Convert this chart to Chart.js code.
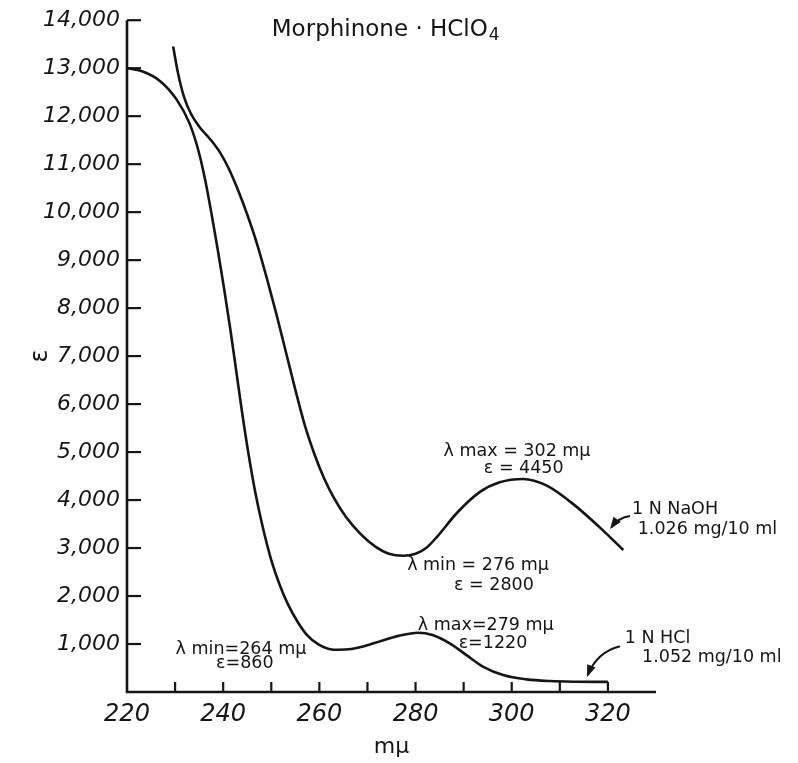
<!DOCTYPE html>
<html>
<head>
<meta charset="UTF-8">
<title>Morphinone · HClO4</title>
<script src="https://cdn.jsdelivr.net/npm/chart.js@4.4.1/dist/chart.umd.min.js"></script>
<style>
    body { margin: 0; background: #fff; }
    #wrap { width: 798px; height: 763px; position: relative; }
</style>
</head>
<body>
<div id="wrap"><canvas id="spectrum"></canvas></div>
<script>
    // 1 N HCl, 1.052 mg/10 ml  (wavelength in mμ, ε)
    const hclNm = [220, 223, 226.9, 230.3, 233, 234.8, 236.3, 237.6, 238.9, 240.2, 241.5, 242.7, 243.9, 245.2,
        246.6, 248.2, 250, 251.8, 253.5, 255.5, 257.5, 259.8, 262.9, 266, 269.5, 273, 276.5, 280.5,
        283.5, 287.2, 290.6, 294.1, 298.2, 303.1, 307.9, 313.5, 320];
    const hclEps = [13000, 12940, 12730, 12350, 11850, 11300, 10650, 9950, 9200, 8400, 7550, 6700, 5850, 5000,
        4200, 3450, 2750, 2220, 1820, 1460, 1180, 990, 880, 890, 960, 1070, 1170, 1235,
        1190, 1010, 768, 525, 353, 263, 228, 214, 210];

    // 1 N NaOH, 1.026 mg/10 ml
    const naohNm = [229.6, 230.6, 231.8, 233.3, 235.2, 237.3, 239.3, 241.2, 243, 245, 247, 249, 251, 253, 255,
        257, 259, 261, 263, 265.5, 268.5, 271.5, 274.5, 277.5, 280, 282.2, 284.6, 288.5, 293.4, 297.5,
        302.4, 307.3, 312.8, 318.3, 323.2];
    const naohEps = [13450, 12900, 12420, 12050, 11760, 11520, 11250, 10900, 10480, 9950, 9350, 8650, 7900, 7100, 6300,
        5550, 4950, 4450, 4050, 3650, 3300, 3040, 2880, 2840, 2880, 3000, 3250, 3720, 4170, 4370,
        4440, 4300, 3915, 3430, 2960];

    const xTickMarks = [230, 240, 250, 260, 270, 280, 290, 300, 310, 320];
    const yTickMarks = [1000, 2000, 3000, 4000, 5000, 6000, 7000, 8000, 9000, 10000, 11000, 12000, 13000, 14000];

    // notes written on the plot, anchored in data units
    const noteText = ['λ max = 302 mμ', 'ε = 4450', 'λ min = 276 mμ', 'ε = 2800', '1 N NaOH', '1.026 mg/10 ml',
        'λ min=264 mμ', 'ε=860', 'λ max=279 mμ', 'ε=1220', '1 N HCl', '1.052 mg/10 ml'];
    const noteNm = [301.1, 302.5, 293, 296.3, 325, 326.2, 243.7, 244.5, 294.6, 296.1, 323.5, 327.1];
    const noteEps = [5020, 4650, 2635, 2220, 3800, 3380, 890, 600, 1390, 1015, 1120, 730];
    const noteAlign = ['center', 'center', 'center', 'center', 'left', 'left',
        'center', 'center', 'center', 'center', 'left', 'left'];

    // arrows from the labels to their curves: tail, bend, head
    const arrowNm = [[324.6, 322.2, 320.7], [322.5, 317.7, 315.8]];
    const arrowEps = [[3670, 3640, 3430], [955, 835, 350]];

    const ink = '#151515';
    const face = '"DejaVu Sans", "Liberation Sans", sans-serif';

    const inkAxes = {
        id: 'inkAxes',
        afterDraw(chart) {
            const { ctx, scales: { x, y } } = chart;
            const x0 = x.getPixelForValue(220);
            const y0 = y.getPixelForValue(0);
            ctx.save();
            ctx.strokeStyle = ink;
            ctx.lineWidth = 2.6;
            ctx.beginPath();
            ctx.moveTo(x0, y.getPixelForValue(14000));
            ctx.lineTo(x0, y0);
            ctx.lineTo(x.getPixelForValue(330), y0);
            ctx.stroke();
            ctx.lineWidth = 2.2;
            yTickMarks.forEach(v => {
                const py = y.getPixelForValue(v);
                ctx.beginPath();
                ctx.moveTo(x0, py);
                ctx.lineTo(x0 + 14, py);
                ctx.stroke();
            });
            xTickMarks.forEach(v => {
                const px = x.getPixelForValue(v);
                ctx.beginPath();
                ctx.moveTo(px, y0);
                ctx.lineTo(px, y0 - 10);
                ctx.stroke();
            });
            ctx.restore();
        }
    };

    const notesPlugin = {
        id: 'notes',
        afterDraw(chart) {
            const { ctx, scales: { x, y } } = chart;
            ctx.save();
            ctx.fillStyle = ink;
            ctx.strokeStyle = ink;
            ctx.textBaseline = 'middle';

            // title, with the 4 of HClO4 set low
            const tx = x.getPixelForValue(250.1), ty = y.getPixelForValue(13800);
            const main = 'Morphinone · HClO';
            ctx.textAlign = 'left';
            ctx.font = '23px ' + face;
            ctx.fillText(main, tx, ty);
            const w = ctx.measureText(main).width;
            ctx.font = '17px ' + face;
            ctx.fillText('4', tx + w + 1, ty + 6);

            ctx.font = '17.5px ' + face;
            noteText.forEach((t, i) => {
                ctx.textAlign = noteAlign[i];
                ctx.fillText(t, x.getPixelForValue(noteNm[i]), y.getPixelForValue(noteEps[i]));
            });

            ctx.lineWidth = 2;
            arrowNm.forEach((nm, i) => {
                const p = nm.map((v, k) => [x.getPixelForValue(v), y.getPixelForValue(arrowEps[i][k])]);
                ctx.beginPath();
                ctx.moveTo(p[0][0], p[0][1]);
                ctx.quadraticCurveTo(p[1][0], p[1][1], p[2][0], p[2][1]);
                ctx.stroke();
                const ang = Math.atan2(p[2][1] - p[1][1], p[2][0] - p[1][0]);
                const len = 10, half = 4.5;
                ctx.beginPath();
                ctx.moveTo(p[2][0] + 2 * Math.cos(ang), p[2][1] + 2 * Math.sin(ang));
                ctx.lineTo(p[2][0] - len * Math.cos(ang) - half * Math.sin(ang), p[2][1] - len * Math.sin(ang) + half * Math.cos(ang));
                ctx.lineTo(p[2][0] - len * Math.cos(ang) + half * Math.sin(ang), p[2][1] - len * Math.sin(ang) - half * Math.cos(ang));
                ctx.closePath();
                ctx.fill();
            });
            ctx.restore();
        }
    };

    const curve = (nm, eps) => ({
        data: nm.map((v, i) => ({ x: v, y: eps[i] })),
        showLine: true,
        borderColor: ink,
        borderWidth: 2.6,
        pointRadius: 0,
        cubicInterpolationMode: 'monotone',
        fill: false
    });

    new Chart(document.getElementById('spectrum'), {
        type: 'scatter',
        data: {
            datasets: [curve(hclNm, hclEps), curve(naohNm, naohEps)]
        },
        options: {
            responsive: true,
            maintainAspectRatio: false,
            animation: false,
            layout: { padding: { left: 0, right: 142, top: 17, bottom: 0 } },
            plugins: {
                legend: { display: false },
                tooltip: { enabled: false }
            },
            scales: {
                x: {
                    type: 'linear',
                    min: 220,
                    max: 330,
                    grid: { display: false, drawTicks: false },
                    border: { display: false },
                    ticks: {
                        stepSize: 20,
                        includeBounds: false,
                        autoSkip: false,
                        maxRotation: 0,
                        padding: 8,
                        color: ink,
                        font: { family: face, size: 24, style: 'italic' },
                        callback: v => v
                    },
                    title: {
                        display: true,
                        text: 'mμ',
                        color: ink,
                        font: { family: face, size: 22 },
                        padding: { top: 0, bottom: 3 }
                    },
                    afterFit: s => { s.height = 71; }
                },
                y: {
                    min: 0,
                    max: 14000,
                    grid: { display: false, drawTicks: false },
                    border: { display: false },
                    ticks: {
                        stepSize: 1000,
                        padding: 7,
                        color: ink,
                        font: { family: face, size: 22, style: 'italic' },
                        callback: v => v === 0 ? '' : v.toLocaleString('en-US')
                    },
                    title: {
                        display: true,
                        text: 'ε',
                        color: ink,
                        font: { family: face, size: 24 },
                        padding: { top: 26, bottom: 0 }
                    },
                    afterFit: s => { s.width = 127; }
                }
            }
        },
        plugins: [inkAxes, notesPlugin]
    });
</script>
</body>
</html>
